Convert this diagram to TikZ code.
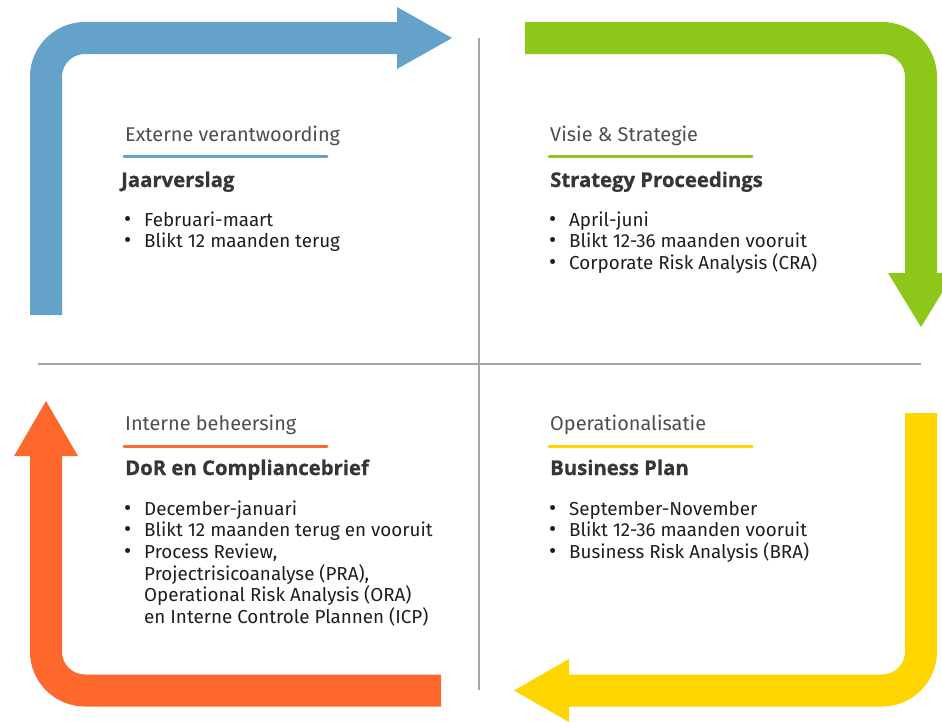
\documentclass[tikz,border=0pt]{standalone}
\usepackage{fontspec}
\setmainfont{Fira Sans}
\newfontfamily\hdrfont{Open Sans}[BoldFeatures={FakeBold=0.8}]
\definecolor{cblue}{HTML}{65A2C9}
\definecolor{cgreen}{HTML}{8DC71A}
\definecolor{cyellow}{HTML}{FFD500}
\definecolor{corange}{HTML}{FF682C}
\definecolor{cgrid}{HTML}{A3A5A8}
\definecolor{ctitle}{HTML}{4D4D4D}
\definecolor{chead}{HTML}{363636}
\definecolor{ctext}{HTML}{1E1E1E}
\tikzset{
  shaft/.style={line width=32pt, rounded corners=39pt, line cap=butt},
  grid/.style={draw=cgrid, line width=1.3pt},
  ttl/.style={anchor=base west, inner sep=0pt, text=ctitle, font=\fontsize{19.9}{22}\selectfont},
  hdr/.style={anchor=base west, inner sep=0pt, text=chead, font=\hdrfont\bfseries\fontsize{20.3}{22}\selectfont},
  uline/.style={line width=3pt, line cap=round},
  bul/.style={anchor=base west, inner sep=0pt, text=ctext, font=\fontsize{22}{21.7}\selectfont},
  itm/.style={anchor=base west, inner sep=0pt, text=ctext, font=\fontsize{18.8}{21.7}\selectfont}
}
\begin{document}
\begin{tikzpicture}[x=1pt,y=-1pt]
\useasboundingbox (0,0) rectangle (942,721);
\clip (0,0) rectangle (942,721);
% grid lines
\coordinate (vt) at (479,38);
\coordinate (vb) at (479,690);
\coordinate (hl) at (38,364);
\coordinate (hr) at (921,364);
\draw[grid] (vt) -- (vb);
\draw[grid] (hl) -- (hr);
% blue arrow
\coordinate (b0) at (46,315);
\coordinate (b1) at (46,38);
\coordinate (b2) at (397.5,38);
\draw[shaft, cblue] (b0) -- (b1) -- (b2);
\fill[cblue] (397,7) -- (452,38) -- (397,69) -- cycle;
% green arrow
\coordinate (g0) at (525,38);
\coordinate (g1) at (921,38);
\coordinate (g2) at (921,273.5);
\draw[shaft, cgreen] (g0) -- (g1) -- (g2);
\fill[cgreen] (888,273) -- (921,327) -- (954,273) -- cycle;
% yellow arrow
\coordinate (y0) at (921,413);
\coordinate (y1) at (921,690.5);
\coordinate (y2) at (568.5,690.5);
\draw[shaft, cyellow] (y0) -- (y1) -- (y2);
\fill[cyellow] (569,659) -- (514,690.5) -- (569,722) -- cycle;
% orange arrow
\coordinate (o0) at (441,690.5);
\coordinate (o1) at (46,690.5);
\coordinate (o2) at (46,455.5);
\draw[shaft, corange] (o0) -- (o1) -- (o2);
\fill[corange] (14,456) -- (46,401) -- (78,456) -- cycle;

% top-left
\node[ttl] (t1) at (125,141) {Externe verantwoording};
\draw[uline, cblue] (124,156) -- (327,156);
\node[hdr] (h1) at (121,187) {Jaarverslag};
\node[bul] at (124,226) {•};
\node[itm] at (144,226) {Februari-maart};
\node[bul] at (124,247.7) {•};
\node[itm] at (144,247.7) {Blikt 12 maanden terug};

% top-right
\node[ttl] (t2) at (550,141) {Visie \& Strategie};
\draw[uline, cgreen] (549,156) -- (752,156);
\node[hdr] (h2) at (550,187) {Strategy Proceedings};
\node[bul] at (549,226) {•};
\node[itm] at (569,226) {April-juni};
\node[bul] at (549,247.7) {•};
\node[itm] at (569,247.7) {Blikt 12-36 maanden vooruit};
\node[bul] at (549,269.4) {•};
\node[itm] at (569,269.4) {Corporate Risk Analysis (CRA)};

% bottom-left
\node[ttl] (t3) at (125,430) {Interne beheersing};
\draw[uline, corange] (124,446) -- (327,446);
\node[hdr] (h3) at (125,475) {DoR en Compliancebrief};
\node[bul] at (124,515) {•};
\node[itm] at (144,515) {December-januari};
\node[bul] at (124,536.7) {•};
\node[itm] at (144,536.7) {Blikt 12 maanden terug en vooruit};
\node[bul] at (124,558.4) {•};
\node[itm] at (144,558.4) {Process Review,};
\node[itm] at (144,580.1) {Projectrisicoanalyse (PRA),};
\node[itm] at (144,601.8) {Operational Risk Analysis (ORA)};
\node[itm] at (144,623.5) {en Interne Controle Plannen (ICP)};

% bottom-right
\node[ttl] (t4) at (550,430) {Operationalisatie};
\draw[uline, cyellow] (549,446) -- (752,446);
\node[hdr] (h4) at (550,475) {Business Plan};
\node[bul] at (549,515) {•};
\node[itm] at (569,515) {September-November};
\node[bul] at (549,536.7) {•};
\node[itm] at (569,536.7) {Blikt 12-36 maanden vooruit};
\node[bul] at (549,558.4) {•};
\node[itm] at (569,558.4) {Business Risk Analysis (BRA)};
\end{tikzpicture}
\end{document}
